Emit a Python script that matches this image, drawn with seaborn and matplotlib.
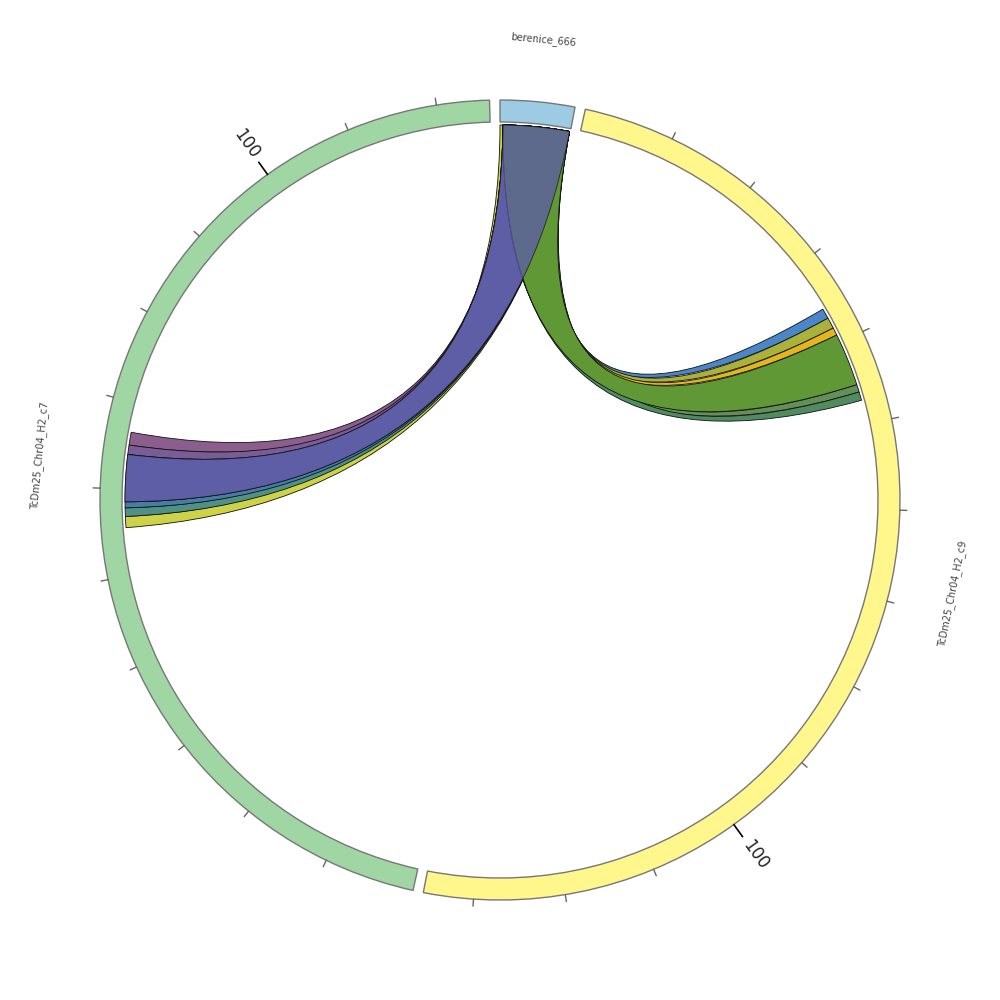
import numpy as np
import matplotlib
matplotlib.use("Agg")
import matplotlib.pyplot as plt
import matplotlib.patches as mpatches
from matplotlib.path import Path
import seaborn as sns

# segments (sequence name, length in kb, colour)
seg_names = ["berenice_666", "TcDm25_Chr04_H2_c9", "TcDm25_Chr04_H2_c7"]
seg_sizes = [8.2, 135.5, 125.8]
seg_colors = ["#9ccbe3", "#fff68c", "#a0d6a4"]

# links from berenice_666 to the two contigs (drawn in this order)
link_targets = ["TcDm25_Chr04_H2_c7"] * 6 + ["TcDm25_Chr04_H2_c9"] * 6
link_src_start = [0.0, 0.35, 0.35, 0.35, 0.35, 0.35] + [0.35] * 6
link_src_end = [8.1] * 12
link_tgt_start = [55.5, 56.8, 57.8, 65.1, 64.0, 58.5, 35.7, 36.9, 38.2, 45.3, 46.2, 39.1]
link_tgt_end = [56.8, 57.8, 58.5, 66.6, 65.1, 64.0, 36.9, 38.2, 39.1, 46.2, 47.2, 45.3]
link_colors = ["#cdd246", "#4f9184", "#467da5", "#8b5e8e", "#7a5c96", "#5e5ea6",
               "#4b87c8", "#aab23c", "#e4b61e", "#648f5a", "#508c5f", "#5f9834"]
# the main c7 link is laid again, translucent, over the c9 links
link_overlay = [False] * 5 + [True] + [False] * 6

tick_step = 10
label_step = 100

GAP = 1.5          # degrees between segments
R_OUT, R_IN = 400, 378
R_LINK = 375

sns.set_style("white")

dpu = (360 - GAP * len(seg_sizes)) / sum(seg_sizes)
seg_start = {}
pos = 0.0
for name, size in zip(seg_names, seg_sizes):
    seg_start[name] = pos
    pos += size * dpu + GAP


def compass(name, x):
    return seg_start[name] + x * dpu


def xy(theta, r):
    t = np.radians(theta)
    return np.array([r * np.sin(t), r * np.cos(t)])


def arc(name, a, b, r, n=20):
    return [xy(t, r) for t in np.linspace(compass(name, a), compass(name, b), n)]


def link_path(src, s0, s1, tgt, t0, t1):
    a = arc(src, s0, s1, R_LINK)
    b = arc(tgt, t0, t1, R_LINK)
    verts = list(a) + [(0, 0), b[0]] + list(b[1:]) + [(0, 0), a[0], a[0]]
    codes = ([Path.MOVETO] + [Path.LINETO] * (len(a) - 1) + [Path.CURVE3, Path.CURVE3]
             + [Path.LINETO] * (len(b) - 1) + [Path.CURVE3, Path.CURVE3, Path.CLOSEPOLY])
    return Path(verts, codes)


fig = plt.figure(figsize=(10, 10), dpi=100)
ax = fig.add_axes([0, 0, 1, 1])
ax.set_xlim(-500, 500)
ax.set_ylim(-500, 500)
ax.set_aspect("equal")
ax.set_axis_off()

# segments
for name, size, col in zip(seg_names, seg_sizes, seg_colors):
    t0 = compass(name, 0)
    t1 = compass(name, size)
    ax.add_patch(mpatches.Wedge((0, 0), R_OUT, 90 - t1, 90 - t0, width=R_OUT - R_IN,
                                facecolor=col, edgecolor="#777777", lw=1))
    # ticks
    for v in np.arange(tick_step, size, tick_step):
        th = compass(name, v)
        major = v % label_step == 0
        p0 = xy(th, R_OUT)
        p1 = xy(th, R_OUT + (15 if major else 7))
        ax.plot([p0[0], p1[0]], [p0[1], p1[1]], color="black" if major else "#666666",
                lw=1.2 if major else 1)
        if major:
            rot = (90 - th) % 360
            if 90 < rot <= 270:
                rot -= 180
            elif rot > 270:
                rot -= 360
            p = xy(th, 437)
            ax.text(p[0], p[1], "%d" % v, rotation=rot, rotation_mode="anchor",
                    ha="center", va="center", fontsize=12, color="#222222")
    # name
    mid = compass(name, size / 2)
    rot = (-mid) % 360
    if 90 < rot <= 270:
        rot -= 180
    elif rot > 270:
        rot -= 360
    p = xy(mid, 462)
    ax.text(p[0], p[1], name, rotation=rot, rotation_mode="anchor",
            ha="center", va="center", fontsize=7, color="#444444")

# links
src = "berenice_666"
rows = list(zip(link_targets, link_src_start, link_src_end,
                link_tgt_start, link_tgt_end, link_colors, link_overlay))
for tgt, s0, s1, t0, t1, col, ov in rows:
    ax.add_patch(mpatches.PathPatch(link_path(src, s0, s1, tgt, t0, t1), facecolor=col,
                                    edgecolor="#111111", lw=0.6))
for tgt, s0, s1, t0, t1, col, ov in rows:
    if ov:
        ax.add_patch(mpatches.PathPatch(link_path(src, s0, s1, tgt, t0, t1), facecolor=col,
                                        alpha=0.78, edgecolor="#111111", lw=0.6))

fig.savefig("out.png", dpi=100)
